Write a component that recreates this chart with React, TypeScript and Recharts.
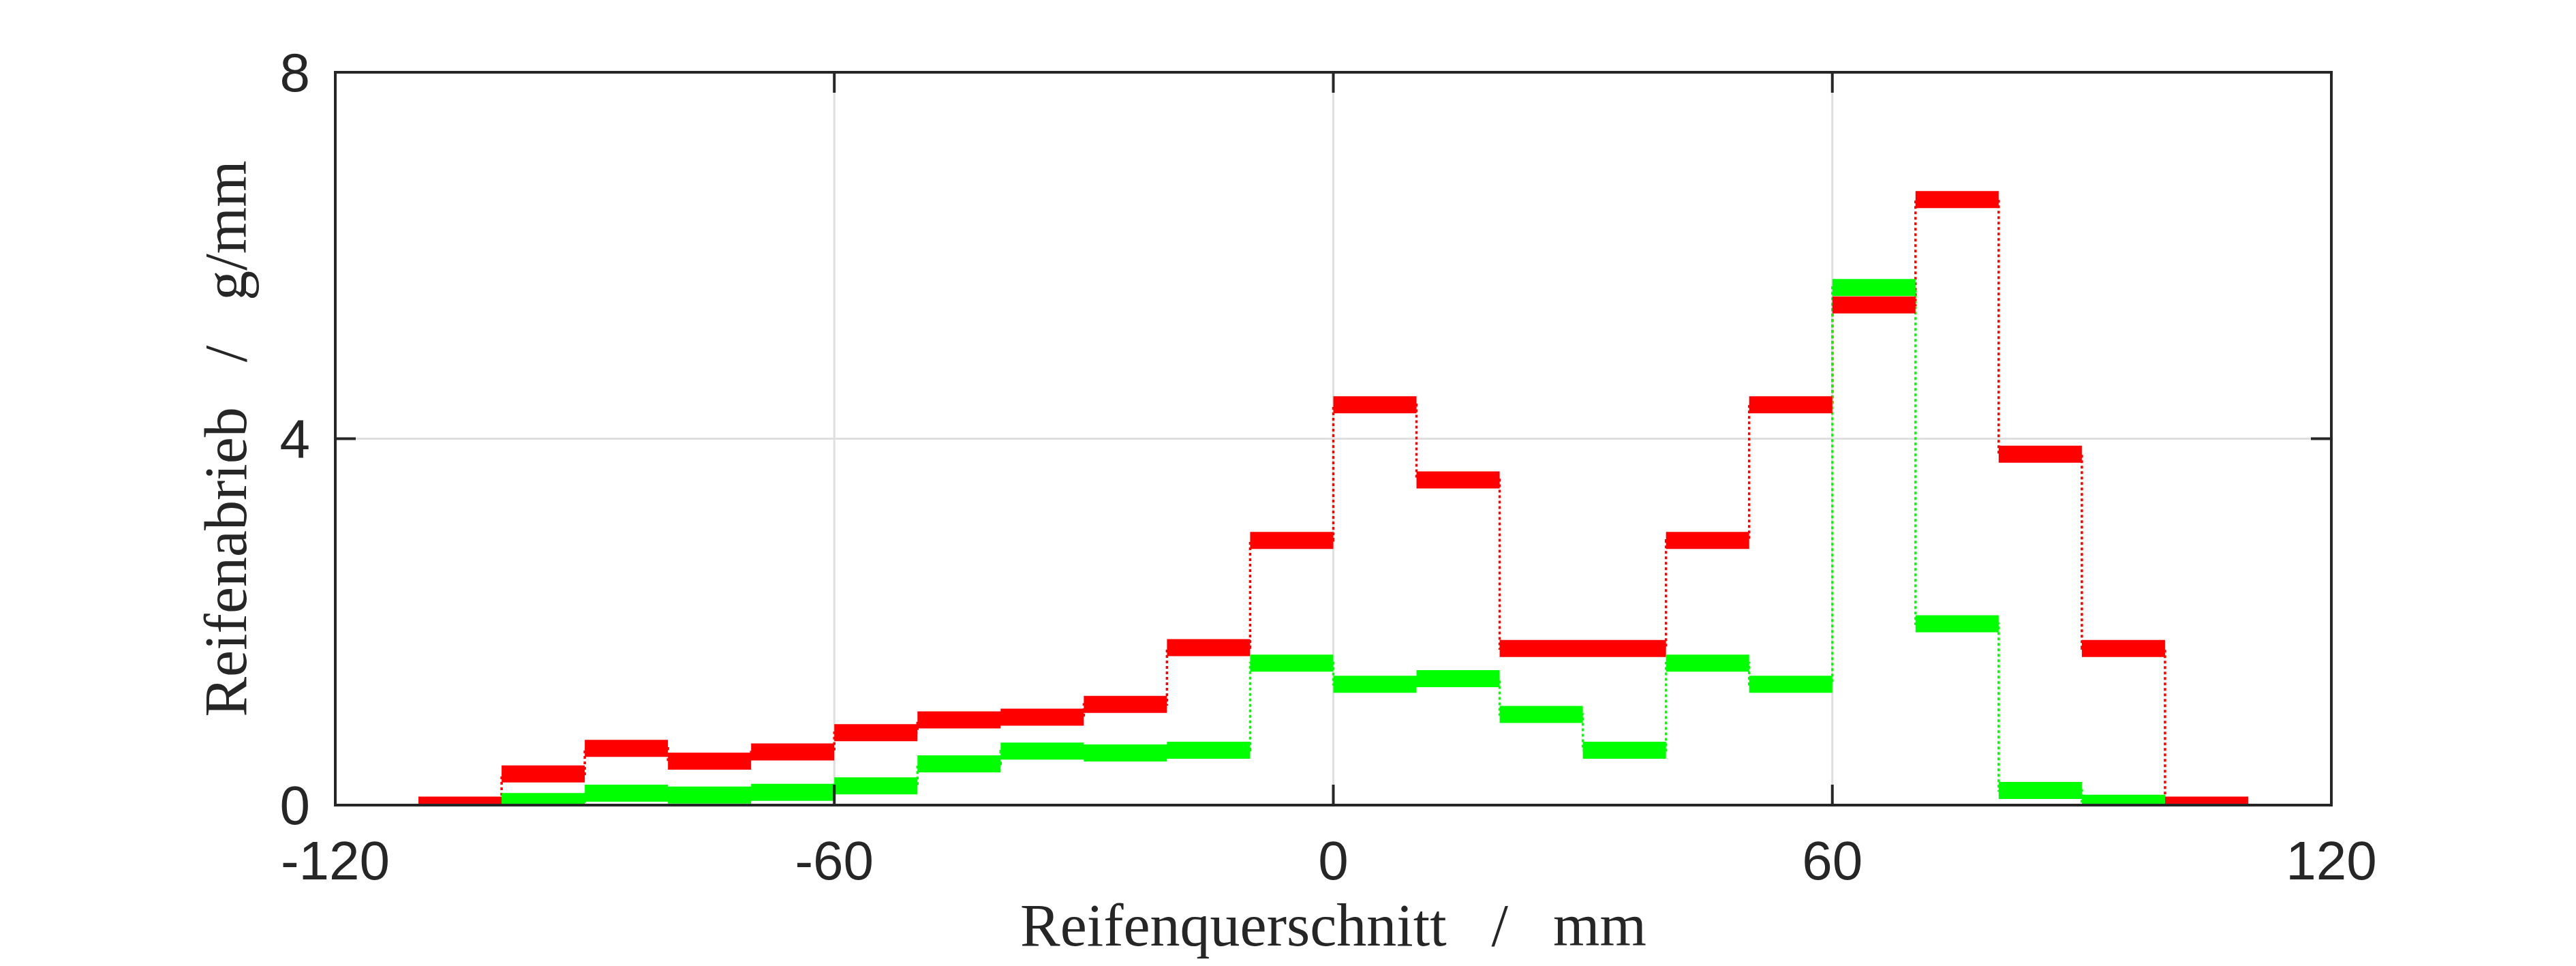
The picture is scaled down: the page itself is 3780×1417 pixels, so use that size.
import { ComposedChart, Line, XAxis, YAxis, CartesianGrid, Label, ReferenceArea } from "recharts";

// histogram bins, 10 mm wide, given by their left edge
const binWidth = 10;
const redBinStarts = [-110, -100, -90, -80, -70, -60, -50, -40, -30, -20, -10, 0, 10, 20, 30, 40, 50, 60, 70, 80, 90, 100];
const redValues = [0, 0.34, 0.62, 0.48, 0.58, 0.79, 0.93, 0.96, 1.1, 1.72, 2.89, 4.37, 3.55, 1.71, 1.71, 2.89, 4.37, 5.46, 6.61, 3.83, 1.71, 0];
const greenBinStarts = [-100, -90, -80, -70, -60, -50, -40, -30, -20, -10, 0, 10, 20, 30, 40, 50, 60, 70, 80, 90];
const greenValues = [0.04, 0.13, 0.11, 0.14, 0.21, 0.45, 0.59, 0.57, 0.6, 1.55, 1.32, 1.38, 0.99, 0.6, 1.55, 1.32, 5.65, 1.98, 0.16, 0.02];

const xDomain = [-120, 120];
const yDomain = [0, 8];
const xTicks = [-120, -60, 0, 60, 120];
const yTicks = [0, 4, 8];

const W = 3780;
const H = 1417;
const margin = { top: 106, right: 359, bottom: 136, left: 392 };
const xAxisHeight = 100;
const yAxisWidth = 100;
const plotW = W - margin.left - margin.right - yAxisWidth;
const plotH = H - margin.top - margin.bottom - xAxisHeight;

const AXIS = "#262626";
const tickFont = "'Liberation Sans', Arial, Helvetica, sans-serif";
const labelFont = "'Liberation Serif', 'Times New Roman', serif";
const tickLen = 30;
const xTickGap = 81;
const yTickGap = 37;

// one flat piece per bin, broken apart with nulls
function segments(starts: number[], values: number[]) {
    const pts: { x: number; y: number | null }[] = [];
    starts.forEach((s, i) => {
        pts.push({ x: s, y: values[i] });
        pts.push({ x: s + binWidth, y: values[i] });
        pts.push({ x: s + binWidth, y: null });
    });
    return pts;
}

// outline of the histogram, drawn as stairs
function stairs(starts: number[], values: number[]) {
    const pts = starts.map((s, i) => ({ x: s, y: values[i] }));
    pts.push({ x: starts[starts.length - 1] + binWidth, y: values[values.length - 1] });
    return pts;
}

// label plus inward tick marks on bottom and top of the box
function BottomTick({ x, y, payload }: any) {
    const axisY = y - xTickGap;
    const topY = axisY - plotH;
    return (
        <g>
            <line x1={x} x2={x} y1={axisY} y2={axisY - tickLen} stroke={AXIS} strokeWidth={4} />
            <line x1={x} x2={x} y1={topY} y2={topY + tickLen} stroke={AXIS} strokeWidth={4} />
            <text x={x} y={y} textAnchor="middle" dominantBaseline="central"
                fontSize={80} fontFamily={tickFont} fill={AXIS}>
                {payload.value}
            </text>
        </g>
    );
}

// label plus inward tick marks on left and right of the box
function LeftTick({ x, y, payload }: any) {
    const axisX = x + yTickGap;
    const rightX = axisX + plotW;
    return (
        <g>
            <line x1={axisX} x2={axisX + tickLen} y1={y} y2={y} stroke={AXIS} strokeWidth={4} />
            <line x1={rightX} x2={rightX - tickLen} y1={y} y2={y} stroke={AXIS} strokeWidth={4} />
            <text x={x} y={y} textAnchor="end" dominantBaseline="central"
                fontSize={80} fontFamily={tickFont} fill={AXIS}>
                {payload.value}
            </text>
        </g>
    );
}

function XTitle({ viewBox }: any) {
    const { x, y, width } = viewBox;
    return (
        <text x={x + width / 2} y={y + 206} textAnchor="middle" xmlSpace="preserve"
            style={{ whiteSpace: "pre" }} fontSize={88} fontFamily={labelFont} fill={AXIS}>
            {"Reifenquerschnitt   /   mm"}
        </text>
    );
}

function YTitle({ viewBox }: any) {
    const { x, y, width, height } = viewBox;
    const cx = x + width - 131;
    const cy = y + height / 2;
    return (
        <text x={cx} y={cy} textAnchor="middle" transform={`rotate(-90 ${cx} ${cy})`} xmlSpace="preserve"
            style={{ whiteSpace: "pre" }} fontSize={88} fontFamily={labelFont} fill={AXIS}>
            {"Reifenabrieb   /   g/mm"}
        </text>
    );
}

export default function App() {
    const axisLine = { stroke: AXIS, strokeWidth: 4 };

    return (
        <div style={{ position: "absolute", left: 0, top: 0, width: W, height: H, background: "#fff" }}>
            <ComposedChart width={W} height={H} margin={margin}>
                <CartesianGrid stroke="#dfdfdf" strokeWidth={3} />
                <ReferenceArea x1={xDomain[0]} x2={xDomain[1]} y1={yDomain[0]} y2={yDomain[1]}
                    fill="none" fillOpacity={0} stroke={AXIS} strokeWidth={4} />
                <XAxis
                    dataKey="x" type="number" domain={xDomain} ticks={xTicks} allowDataOverflow
                    height={xAxisHeight} tickSize={0} tickMargin={xTickGap} tickLine={false} axisLine={axisLine}
                    tick={<BottomTick />} interval={0}
                >
                    <Label content={<XTitle />} />
                </XAxis>
                <YAxis
                    type="number" domain={yDomain} ticks={yTicks} allowDataOverflow width={yAxisWidth}
                    tickSize={0} tickMargin={yTickGap} tickLine={false} axisLine={axisLine}
                    tick={<LeftTick />} interval={0}
                >
                    <Label content={<YTitle />} />
                </YAxis>

                <Line data={stairs(redBinStarts, redValues)} dataKey="y" type="stepAfter"
                    stroke="#ff0000" strokeWidth={3.5} strokeDasharray="4 4"
                    dot={false} activeDot={false} isAnimationActive={false} />
                <Line data={stairs(greenBinStarts, greenValues)} dataKey="y" type="stepAfter"
                    stroke="#00ff00" strokeWidth={3.5} strokeDasharray="4 4"
                    dot={false} activeDot={false} isAnimationActive={false} />
                <Line data={segments(redBinStarts, redValues)} dataKey="y" type="linear"
                    stroke="#ff0000" strokeWidth={25} connectNulls={false}
                    dot={false} activeDot={false} isAnimationActive={false} />
                <Line data={segments(greenBinStarts, greenValues)} dataKey="y" type="linear"
                    stroke="#00ff00" strokeWidth={25} connectNulls={false}
                    dot={false} activeDot={false} isAnimationActive={false} />
            </ComposedChart>
        </div>
    );
}
